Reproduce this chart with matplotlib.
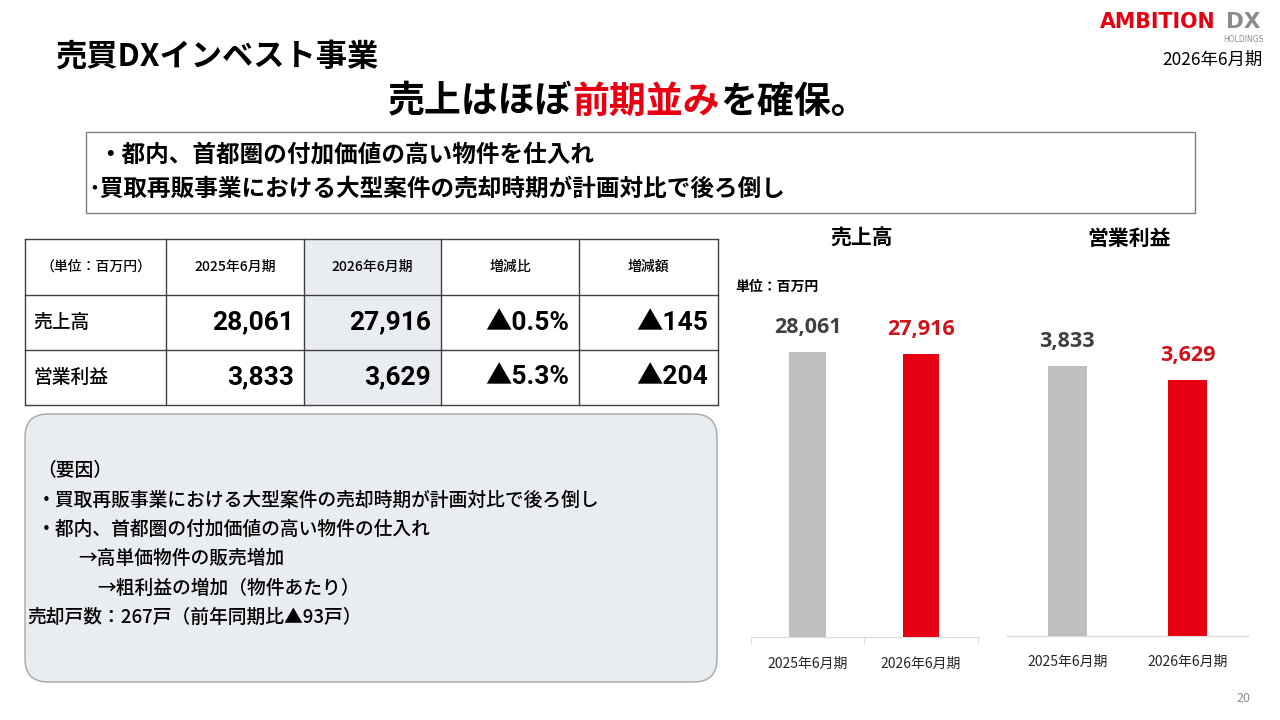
import matplotlib.pyplot as plt
from matplotlib.patches import Rectangle, FancyBboxPatch

plt.rcParams['font.family'] = ['Noto Sans CJK JP', 'DejaVu Sans']

W, H = 1280, 720

# data
periods = ["2025年6月期", "2026年6月期"]
sales = [28061, 27916]
op_profit = [3833, 3629]
sales_labels = ["28,061", "27,916"]
profit_labels = ["3,833", "3,629"]
table_header = ["（単位：百万円）", "2025年6月期", "2026年6月期", "増減比", "増減額"]
table_rows = [
    ["売上高", "28,061", "27,916", "▲0.5%", "▲145"],
    ["営業利益", "3,833", "3,629", "▲5.3%", "▲204"],
]
summary_lines = [
    "・都内、首都圏の付加価値の高い物件を仕入れ",
    "･買取再販事業における大型案件の売却時期が計画対比で後ろ倒し",
]
factor_lines = [
    ("（要因）", 37),
    ("・買取再販事業における大型案件の売却時期が計画対比で後ろ倒し", 37),
    ("・都内、首都圏の付加価値の高い物件の仕入れ", 37),
    ("→高単価物件の販売増加", 78),
    ("→粗利益の増加（物件あたり）", 97),
    ("売却戸数：267戸（前年同期比▲93戸）", 27),
]

GRAY_BAR = "#BFBFBF"
RED_BAR = "#E60012"
RED_TXT = "#D0121B"
DARK = "#404040"

fig = plt.figure(figsize=(12.8, 7.2), dpi=100)


def px(x, y):
    return x / W, 1 - y / H


def txt(x, y, s, size, **kw):
    fx, fy = px(x, y)
    return fig.text(fx, fy, s, fontsize=size, **kw)


# header area
txt(55, 57, "売買DXインベスト事業", 22.5, weight="bold", va="center")
txt(1263, 60, "2026年6月期", 12.5, ha="right", va="center")
txt(1100, 22, "AMBITION", 14.8, weight="heavy", color="#E60012", va="center",
    family="DejaVu Sans")
txt(1226, 22, "DX", 15.5, weight="heavy", color="#8C8C8C", va="center",
    family="DejaVu Sans")
txt(1264, 39, "HOLDINGS", 5.5, color="#8C8C8C", ha="right", va="center",
    family="DejaVu Sans")
txt(1250, 699, "20", 9, color="#8C8C8C", ha="right", va="center")

# headline in three colored parts
parts = [("売上はほぼ", "black"), ("前期並み", "#E60012"), ("を確保。", "black")]
fig.canvas.draw()
renderer = fig.canvas.get_renderer()
xcur = 388
for s, c in parts:
    t = txt(xcur, 102, s, 26.6, weight="bold", color=c, va="center")
    bb = t.get_window_extent(renderer)
    xcur += bb.width

# summary box
fig.patches.append(Rectangle(px(86, 213), (1195 - 86) / W, (213 - 132) / H,
                             transform=fig.transFigure, fill=False,
                             edgecolor="#7F7F7F", linewidth=1))
txt(98, 155, summary_lines[0], 17, weight="bold", va="center")
txt(88, 189, summary_lines[1], 17, weight="bold", va="center")

# table
col_x = [25, 166, 304, 441, 579, 718]
row_y = [239, 295, 350, 405]
fig.patches.append(Rectangle(px(col_x[2], row_y[3]), (col_x[3] - col_x[2]) / W,
                             (row_y[3] - row_y[0]) / H, transform=fig.transFigure,
                             facecolor="#E9EDF2", edgecolor="none"))
for x in col_x:
    fig.lines.append(plt.Line2D([x / W, x / W], [1 - row_y[0] / H, 1 - row_y[-1] / H],
                                transform=fig.transFigure, color="#404040", lw=1))
for y in row_y:
    fig.lines.append(plt.Line2D([col_x[0] / W, col_x[-1] / W], [1 - y / H, 1 - y / H],
                                transform=fig.transFigure, color="#404040", lw=1))
for i, h in enumerate(table_header):
    cx = (col_x[i] + col_x[i + 1]) / 2
    txt(cx, 267, h, 10, weight="medium", ha="center", va="center")
for r, row in enumerate(table_rows):
    cy = (row_y[r + 1] + row_y[r + 2]) / 2
    txt(33, cy, row[0], 13.5, weight="medium", va="center")
    for i in range(1, 5):
        txt(col_x[i + 1] - 10, cy, row[i], 19, weight="bold", ha="right", va="center",
            family=["Roboto", "Noto Sans CJK JP"])

# factors box
fig.patches.append(FancyBboxPatch(px(25, 682), (717 - 25) / W, (682 - 414) / H,
                                  boxstyle="round,pad=0,rounding_size=0.018",
                                  transform=fig.transFigure, facecolor="#E9ECF1",
                                  edgecolor="#A6A6A6", linewidth=1,
                                  mutation_aspect=W / H))
for k, (s, x) in enumerate(factor_lines):
    txt(x, 471 + k * 29.3, s, 13.5, weight="medium", va="center")

# charts
txt(862, 238, "売上高", 15, weight="bold", ha="center", va="center")
txt(1129, 238, "営業利益", 15, weight="bold", ha="center", va="center")
txt(735, 287, "単位：百万円", 10, weight="bold", va="center")


def bar_chart(left, right, base, top_px, ymax, values, labels, ticks):
    ax = fig.add_axes([left / W, 1 - base / H, (right - left) / W, (base - top_px) / H])
    ax.bar([0, 1], values, width=0.32, color=[GRAY_BAR, RED_BAR])
    ax.set_xlim(-0.5, 1.5)
    ax.set_ylim(0, ymax)
    for s in ["top", "right", "left"]:
        ax.spines[s].set_visible(False)
    ax.spines["bottom"].set_color("#D9D9D9")
    ax.set_yticks([])
    ax.set_xticks([0, 1])
    ax.set_xticklabels(periods, fontsize=10, color="#262626")
    ax.tick_params(axis="x", length=0, pad=14)
    if ticks:
        ax.set_xticks([-0.5, 0.5, 1.5], minor=True)
        ax.tick_params(axis="x", which="minor", length=5, color="#D9D9D9")
    ax.patch.set_alpha(0)
    for i, (v, lab) in enumerate(zip(values, labels)):
        ax.annotate(lab, (i, v), xytext=(0, 10), textcoords="offset points",
                    ha="center", va="bottom", fontsize=15.5, weight="bold",
                    color=DARK if i == 0 else RED_TXT, family=["Open Sans", "DejaVu Sans"])
    return ax


bar_chart(750.7, 977.7, 637.3, 302.1, 33000, sales, sales_labels, True)
bar_chart(1007, 1248, 635.7, 318.7, 4500, op_profit, profit_labels, False)

fig.savefig("out.png", dpi=100)
